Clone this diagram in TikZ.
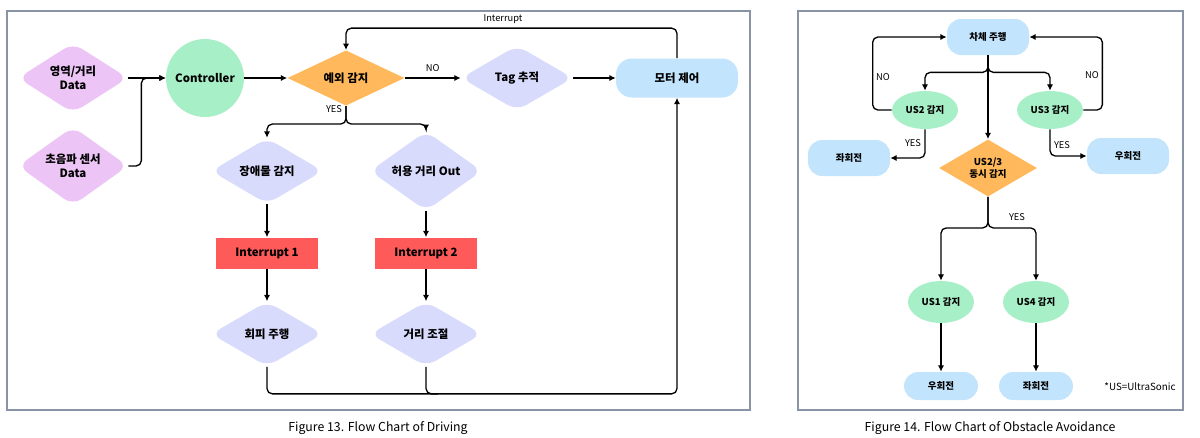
\documentclass[tikz,border=0pt]{standalone}
\usepackage{fontspec}
\setmainfont{Noto Sans CJK KR}
\usepackage{tikz}
\usetikzlibrary{
	shapes.geometric,
	arrows.meta,
	calc
}
\definecolor{datapink}{HTML}{ECC4F6}
\definecolor{ctrlgreen}{HTML}{A7EFC6}
\definecolor{decorange}{HTML}{FFB95C}
\definecolor{proclav}{HTML}{D9DBFD}
\definecolor{termblue}{HTML}{C2E4FC}
\definecolor{intred}{HTML}{FF5A5A}
\definecolor{framegray}{HTML}{8893A5}
\tikzset{
	every node/.style={
		font=\bfseries\fontsize{6.5}{7.8}\selectfont,
		align=center,
		inner sep=0pt
	},
	flow/.style={
		-{Latex[length=3.6pt,width=3.6pt]},
		line width=0.75pt,
		rounded corners=3pt
	},
	flowline/.style={
		line width=0.75pt,
		rounded corners=3pt
	},
	datanode/.style={
		diamond,
		rounded corners=6pt,
		fill=datapink,
		minimum width=2.2cm,
		minimum height=1.3cm
	},
	procnode/.style={
		datanode,
		fill=proclav,
		minimum width=2.24cm
	},
	decnode/.style={
		diamond,
		fill=decorange,
		minimum width=2.34cm,
		minimum height=0.98cm
	},
	ctrlnode/.style={
		circle,
		fill=ctrlgreen,
		minimum size=1.56cm
	},
	termnode/.style={
		rectangle,
		rounded corners=9pt,
		fill=termblue,
		minimum width=2.44cm,
		minimum height=0.78cm
	},
	intnode/.style={
		rectangle,
		fill=intred,
		minimum width=2.06cm,
		minimum height=0.62cm
	},
	smallterm/.style={
		termnode,
		rounded corners=8pt,
		minimum width=1.64cm,
		minimum height=0.72cm,
		font=\bfseries\fontsize{5.4}{6.5}\selectfont
	},
	sensnode/.style={
		ellipse,
		fill=ctrlgreen,
		minimum width=1.32cm,
		minimum height=0.76cm,
		font=\bfseries\fontsize{5.4}{6.5}\selectfont
	},
	lbl/.style={
		font=\fontsize{5.3}{6.4}\selectfont
	},
	figcap/.style={
		font=\fontsize{7}{8.4}\selectfont
	},
	panelframe/.style={
		draw=framegray,
		line width=0.6pt
	}
}

\begin{document}
\begin{tikzpicture}[x=0.02cm,y=-0.02cm]
	\useasboundingbox (0,0) rectangle (1200,437);
	\draw[panelframe] (7,11) rectangle (750,410);
	\draw[panelframe] (798,11) rectangle (1183,410);

	\node[datanode]  (area)   at (73,78)   {영역/거리\\Data};
	\node[datanode]  (sonic)  at (73,166)  {초음파 센서\\Data};
	\node[ctrlnode]  (ctrl)   at (205,78)  {Controller};
	\node[decnode]   (exc)    at (346,78)  {예외 감지};
	\node[procnode]  (tag)    at (517,78)  {Tag 추적};
	\node[termnode]  (motor)  at (677,78)  {모터 제어};
	\node[procnode]  (obs)    at (267,171) {장애물 감지};
	\node[procnode]  (tol)    at (426,171) {허용 거리 Out};
	\node[intnode]   (int1)   at (267,253) {Interrupt 1};
	\node[intnode]   (int2)   at (426,253) {Interrupt 2};
	\node[procnode]  (avoid)  at (267,334) {회피 주행};
	\node[procnode]  (adjust) at (426,334) {거리 조절};

	\draw[flow] (area.east) -- (ctrl.west);
	\draw[flow] (sonic.east) -- ++(13,0) |- (ctrl.west);
	\draw[flow] (ctrl.east) -- (exc.west);
	\draw[flow] (exc.east) -- node[lbl,above=3pt] (no1) {NO} (tag.west);
	\draw[flow] (tag.east) -- (motor.west);
	\draw[flow] (motor.north) -- ++(0,-30) -| (exc.north);
	\node[lbl] (intlbl) at (503,19) {Interrupt};
	\draw[flow] (exc.south) -- ++(0,18) -| (obs.north);
	\draw[flow] (exc.south) -- ++(0,18) -| (tol.north);
	\node[lbl] (yes1) at (334,109) {YES};
	\draw[flow] (obs.south) -- (int1.north);
	\draw[flow] (tol.south) -- (int2.north);
	\draw[flow] (int1.south) -- (avoid.north);
	\draw[flow] (int2.south) -- (adjust.north);
	\draw[flow] (avoid.south) -- ++(0,27) -| (motor.south);
	\draw[flowline] (adjust.south) -- ++(0,27) -- ++(12,0);

	\node[figcap] (cap13) at (378,428) {Figure 13. Flow Chart of Driving};

	\node[smallterm] (drive)  at (988,37)  {차체 주행};
	\node[sensnode]  (us2)    at (925,110) {US2 감지};
	\node[sensnode]  (us3)    at (1050,110) {US3 감지};
	\node[smallterm] (left1)  at (849,158) {좌회전};
	\node[smallterm] (right1) at (1128,156) {우회전};
	\node[decnode,minimum width=1.96cm,minimum height=1cm,
		font=\bfseries\fontsize{5.4}{6.5}\selectfont] (both) at (988,168) {US2/3\\동시 감지};
	\node[sensnode,minimum height=0.84cm]  (us1) at (941,302)  {US1 감지};
	\node[sensnode,minimum height=0.84cm]  (us4) at (1036,302) {US4 감지};
	\node[smallterm,minimum width=1.48cm,minimum height=0.56cm] (right2) at (941,386)  {우회전};
	\node[smallterm,minimum width=1.48cm,minimum height=0.56cm] (left2)  at (1036,386) {좌회전};

	\draw[flow] (drive.south) -- ++(0,17) -| (us2.north);
	\draw[flow] (drive.south) -- ++(0,17) -| (us3.north);
	\draw[flow] (drive.south) -- (both.north);
	\draw[flow] (us2.west) -- ++(-19,0) |- (drive.west);
	\draw[flow] (us3.east) -- ++(19,0) |- (drive.east);
	\node[lbl] (no2) at (883,77) {NO};
	\node[lbl] (no3) at (1092,75) {NO};
	\draw[flow] (us2.south) |- (left1.east);
	\draw[flow] (us3.south) |- (right1.west);
	\node[lbl] (yes2) at (913,143) {YES};
	\node[lbl] (yes3) at (1062,145) {YES};
	\draw[flow] (both.south) -- ++(0,31) -| (us1.north);
	\draw[flow] (both.south) -- ++(0,31) -| (us4.north);
	\node[lbl] (yes4) at (1017,217) {YES};
	\draw[flow] (us1.south) -- (right2.north);
	\draw[flow] (us4.south) -- (left2.north);
	\node[font=\fontsize{5.6}{6.7}\selectfont] (usnote) at (1140,387) {*US=UltraSonic};

	\node[figcap] (cap14) at (990,428) {Figure 14. Flow Chart of Obstacle Avoidance};
\end{tikzpicture}
\end{document}
